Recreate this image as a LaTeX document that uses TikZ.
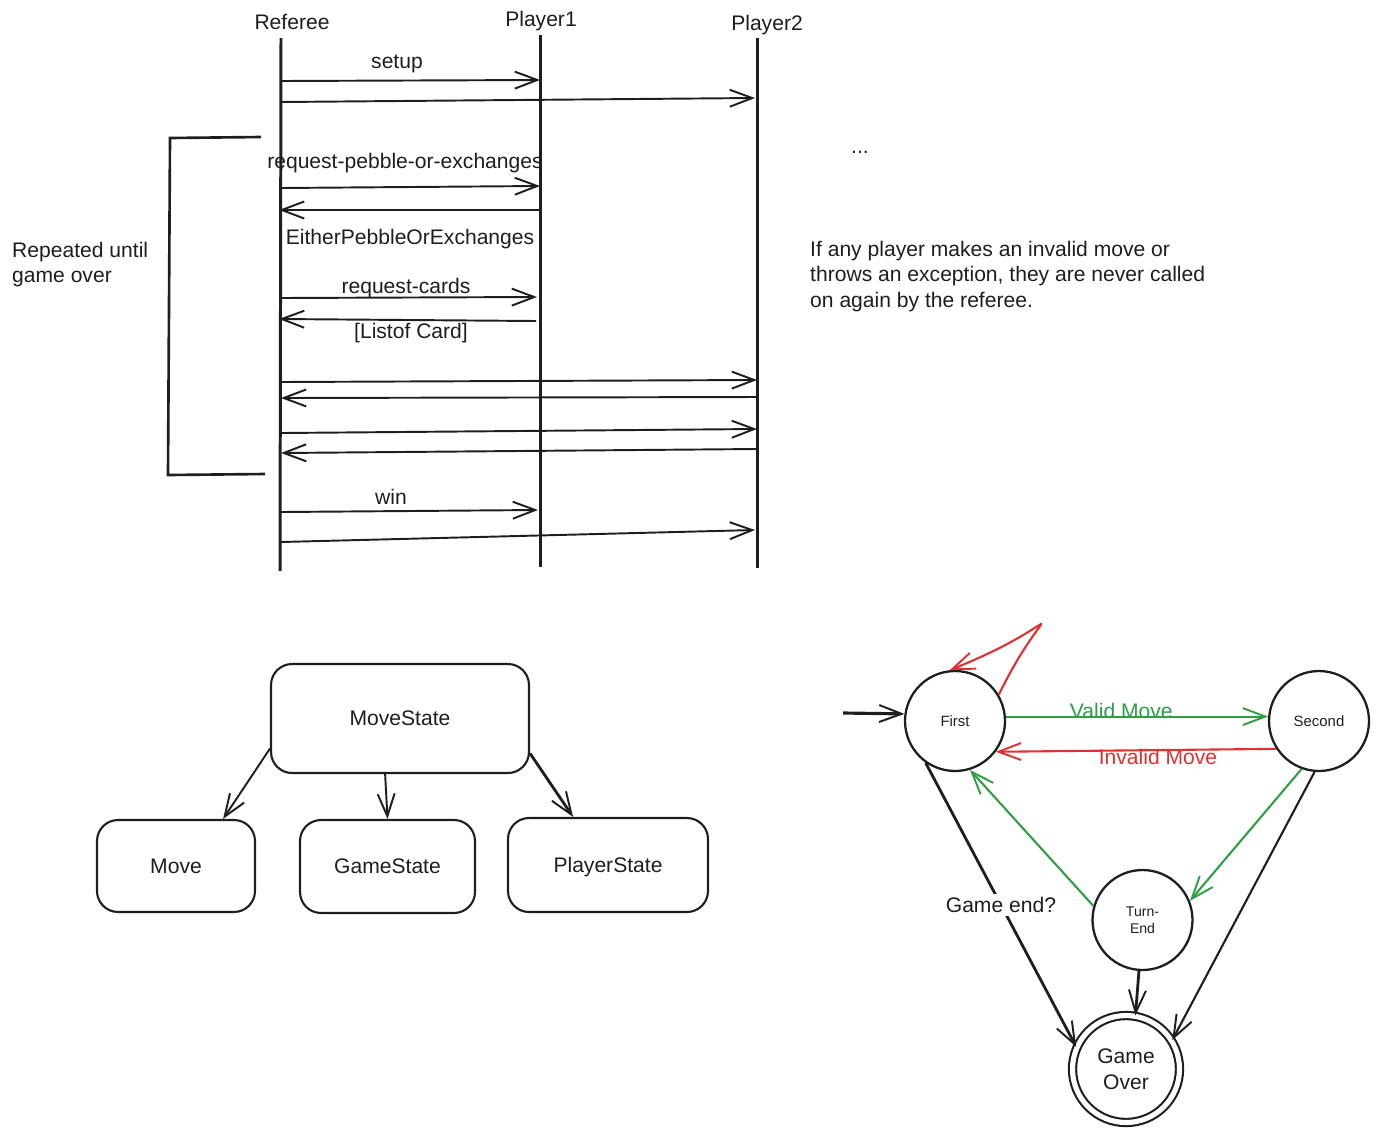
\documentclass[tikz,border=0pt]{standalone}
\usepackage{fontspec}
\setmainfont{Liberation Sans}
\usetikzlibrary{arrows.meta}
\definecolor{okgreen}{HTML}{2F9E44}
\definecolor{badred}{HTML}{E03131}
\definecolor{ink}{HTML}{1E1E1E}
\begin{document}
\begin{tikzpicture}[x=0.02cm,y=-0.02cm,
  every node/.style={text=ink},
  txt/.style={font=\fontsize{12}{14.5}\selectfont},
  small/.style={font=\fontsize{8.5}{10}\selectfont},
  lifeline/.style={draw=ink,line width=1.7pt},
  tip/.style={-{Straight Barb[length=4.5mm,width=3.4mm,line width=1.1pt]}},
  msg/.style={draw=ink,line width=1.1pt,tip},
  box/.style={draw=ink,line width=1.2pt,rounded corners=0.42cm,txt},
  state/.style={draw=ink,circle,line width=1.3pt,minimum size=2cm,inner sep=0pt},
  edge/.style={line width=1.2pt,tip}]
\useasboundingbox (0,0) rectangle (1378,1133);

% ---------- sequence diagram ----------
\node[txt] (ref) at (292,22) {Referee};
\node[txt] (p1) at (541,21) {Player1};
\node[txt] (p2) at (767,25) {Player2};
\coordinate (refT) at (281,38);  \coordinate (refB) at (280,571);
\coordinate (p1T) at (540,35);   \coordinate (p1B) at (540,567);
\coordinate (p2T) at (757,38);   \coordinate (p2B) at (757,568);
\draw[lifeline] (refT) -- (refB);
\draw[lifeline] (p1T) -- (p1B);
\draw[lifeline] (p2T) -- (p2B);

% message end points
\coordinate (s1) at (281,81);  \coordinate (e1) at (540,80);
\coordinate (s2) at (281,102); \coordinate (e2) at (755,98);
\coordinate (s3) at (281,188); \coordinate (e3) at (540,186);
\coordinate (s4) at (540,210); \coordinate (e4) at (279,210);
\coordinate (s5) at (281,298); \coordinate (e5) at (537,297);
\coordinate (s6) at (536,321); \coordinate (e6) at (279,319);
\coordinate (s7) at (281,382); \coordinate (e7) at (757,380);
\coordinate (s8) at (757,397); \coordinate (e8) at (281,398);
\coordinate (s9) at (281,433); \coordinate (e9) at (757,429);
\coordinate (s10) at (757,449); \coordinate (e10) at (281,453);
\coordinate (s11) at (281,512); \coordinate (e11) at (538,510);
\coordinate (s12) at (281,542); \coordinate (e12) at (755,530);
\foreach \i in {1,...,12} \draw[msg] (s\i) -- (e\i);

\node[txt] (lsetup) at (397,64) {setup};
\node[txt] (lreq) at (405,163) {request-pebble-or-exchanges};
\node[txt] (leither) at (410,239) {EitherPebbleOrExchanges};
\node[txt] (lcards) at (406,288) {request-cards};
\node[txt] (llist) at (411,333) {[Listof Card]};
\node[txt] (lwin) at (391,497) {win};

% loop bracket
\coordinate (bA) at (261,137); \coordinate (bB) at (170,138);
\coordinate (bC) at (168,475); \coordinate (bD) at (265,474);
\draw[draw=ink,line width=1.5pt] (bA) -- (bB) -- (bC) -- (bD);
\node[txt,anchor=north west,align=left] (rep) at (6,236) {Repeated until\\game over};

\node[txt] (dots) at (860,152) {...};
\node[txt,anchor=north west,align=left] (note) at (804,235)
  {If any player makes an invalid move or\\throws an exception, they are never called\\on again by the referee.};

% ---------- data classes ----------
\node[box,minimum width=5.16cm,minimum height=2.18cm,text depth=-4pt] (ms) at (400,718.5) {MoveState};
\node[box,minimum width=3.16cm,minimum height=1.84cm] (mv) at (176,866) {Move};
\node[box,minimum width=3.5cm,minimum height=1.86cm] (gs) at (387.5,866.5) {GameState};
\node[box,minimum width=4.0cm,minimum height=1.88cm,text depth=-2pt] (ps) at (608,865) {PlayerState};
\draw[msg] (ms.193) -- (mv.45);
\draw[msg] (ms.255) -- (gs.north);
\draw[msg,line width=1.6pt] (ms.345) -- (ps.126);

% ---------- state machine ----------
\node[state,small] (first) at (955,721) {First};
\node[state,small] (second) at (1319,721) {Second};
\node[state,small,align=center,font=\fontsize{8}{10}\selectfont] (te) at (1142.5,920) {Turn-\\End};
\node[state,txt,align=center,minimum size=2.14cm,double,double distance=2.9pt,line width=1.2pt] (go) at (1126,1069) {Game\\Over};

\coordinate (init) at (843,713);
\draw[edge,draw=ink,line width=1.8pt] (init) -- (first.172);
\draw[edge,draw=okgreen] (first.5) -- (second.175)
  node[pos=0.44,above=-5pt,txt,text=okgreen] (lvalid) {Valid Move};
\draw[edge,draw=badred] (second.213) -- (first.323);
\node[txt,text=badred] (linvalid) at (1158,757) {Invalid Move};
% self loop on First: hairpin rising to the upper right
\draw[edge,draw=badred] (first.31) .. controls (1050,590) and (1075,620) .. (first.96);
\draw[edge,draw=okgreen] (second.250) -- (te.22);
\draw[edge,draw=okgreen] (te.164) -- (first.287);
\draw[edge,draw=ink,line width=1.6pt] (first.235) -- (go.156)
  node[pos=0.5,fill=white,inner sep=2pt,txt] (lend) {Game end?};
\draw[edge,draw=ink,line width=1.6pt] (te.266) -- (go.80);
\draw[edge,draw=ink] (second.265) -- (go.32);
\end{tikzpicture}
\end{document}
